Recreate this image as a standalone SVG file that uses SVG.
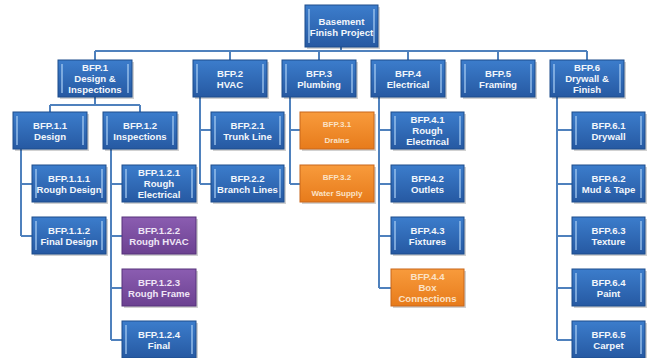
<svg xmlns="http://www.w3.org/2000/svg" width="647" height="358" viewBox="0 0 647 358">
<defs>
<linearGradient id="gb" x1="0" y1="0" x2="0" y2="1"><stop offset="0" stop-color="#3c7dcc"/><stop offset="1" stop-color="#2659a2"/></linearGradient>
<linearGradient id="go" x1="0" y1="0" x2="0" y2="1"><stop offset="0" stop-color="#f89b3c"/><stop offset="1" stop-color="#e77b1b"/></linearGradient>
<linearGradient id="gp" x1="0" y1="0" x2="0" y2="1"><stop offset="0" stop-color="#8b5db1"/><stop offset="1" stop-color="#6c4191"/></linearGradient>
</defs>
<style>
.b{fill:url(#gb);stroke:#1d4c8c;stroke-width:1}
.o{fill:url(#go);stroke:#c8661b;stroke-width:1}
.p{fill:url(#gp);stroke:#56327a;stroke-width:1}
.sh{fill:#000;opacity:0.18}
.hl{stroke:#a6cbf2;stroke-width:1.5;opacity:0.85}
.t{font-family:"Liberation Sans",Arial,sans-serif;font-weight:bold;font-size:9.6px;fill:#f2f6fb;text-anchor:middle}
.to{font-family:"Liberation Sans",Arial,sans-serif;font-weight:bold;font-size:8px;fill:#fbe2c6;text-anchor:middle}
.tp{fill:#efe6f6}
.c{fill:none;stroke:#4f81bd;stroke-width:2}
</style>
<g id="connectors">
<path class="c" d="M341 47V51M95 51H587M95 51V60M230 51V60M319 51V60M408 51V60M498 51V60M587 51V60"/>
<path class="c" d="M95 97V105M50 105H140M50 105V112M140 105V112"/>
<path class="c" d="M21 149V236M21 184H32M21 236H32"/>
<path class="c" d="M111 149V340M111 184H122M111 236H122M111 288H122M111 340H122"/>
<path class="c" d="M200 97V184M200 130H211M200 184H211"/>
<path class="c" d="M290 97V184M290 130H300M290 184H300"/>
<path class="c" d="M379 97V288M379 130H391M379 184H391M379 236H391M379 288H391"/>
<path class="c" d="M557 97V340M557 130H572M557 184H572M557 236H572M557 288H572M557 340H572"/>
</g>
<g id="root"><rect class="sh" x="307" y="7" width="73" height="42"/><rect class="b" x="305" y="5" width="73" height="42"/><path class="hl" d="M309 9V43M374 9V43"/><text class="t" x="341.5" y="24.5">Basement</text><text class="t" x="341.5" y="35.5">Finish Project</text></g>
<g id="bfp1"><rect class="sh" x="60" y="62" width="74" height="37"/><rect class="b" x="58" y="60" width="74" height="37"/><path class="hl" d="M62 64V93M128 64V93"/><text class="t" x="95" y="71">BFP.1</text><text class="t" x="95" y="82">Design &amp;</text><text class="t" x="95" y="93">Inspections</text></g>
<g id="bfp2"><rect class="sh" x="195" y="62" width="74" height="37"/><rect class="b" x="193" y="60" width="74" height="37"/><path class="hl" d="M197 64V93M263 64V93"/><text class="t" x="230" y="76.5">BFP.2</text><text class="t" x="230" y="87.5">HVAC</text></g>
<g id="bfp3"><rect class="sh" x="284" y="62" width="74" height="37"/><rect class="b" x="282" y="60" width="74" height="37"/><path class="hl" d="M286 64V93M352 64V93"/><text class="t" x="319" y="76.5">BFP.3</text><text class="t" x="319" y="87.5">Plumbing</text></g>
<g id="bfp4"><rect class="sh" x="373" y="62" width="74" height="37"/><rect class="b" x="371" y="60" width="74" height="37"/><path class="hl" d="M375 64V93M441 64V93"/><text class="t" x="408" y="76.5">BFP.4</text><text class="t" x="408" y="87.5">Electrical</text></g>
<g id="bfp5"><rect class="sh" x="463" y="62" width="74" height="37"/><rect class="b" x="461" y="60" width="74" height="37"/><path class="hl" d="M465 64V93M531 64V93"/><text class="t" x="498" y="76.5">BFP.5</text><text class="t" x="498" y="87.5">Framing</text></g>
<g id="bfp6"><rect class="sh" x="552" y="62" width="74" height="37"/><rect class="b" x="550" y="60" width="74" height="37"/><path class="hl" d="M554 64V93M620 64V93"/><text class="t" x="587" y="71">BFP.6</text><text class="t" x="587" y="82">Drywall &amp;</text><text class="t" x="587" y="93">Finish</text></g>

<g id="bfp11"><rect class="sh" x="15" y="114" width="74" height="37"/><rect class="b" x="13" y="112" width="74" height="37"/><path class="hl" d="M17 116V145M83 116V145"/><text class="t" x="50" y="128.5">BFP.1.1</text><text class="t" x="50" y="139.5">Design</text></g>
<g id="bfp12"><rect class="sh" x="105" y="114" width="74" height="37"/><rect class="b" x="103" y="112" width="74" height="37"/><path class="hl" d="M107 116V145M173 116V145"/><text class="t" x="140" y="128.5">BFP.1.2</text><text class="t" x="140" y="139.5">Inspections</text></g>
<g id="bfp111"><rect class="sh" x="34" y="167" width="74" height="37"/><rect class="b" x="32" y="165" width="74" height="37"/><path class="hl" d="M36 169V198M102 169V198"/><text class="t" x="69" y="181.5">BFP.1.1.1</text><text class="t" x="69" y="192.5">Rough Design</text></g>
<g id="bfp112"><rect class="sh" x="34" y="219" width="74" height="37"/><rect class="b" x="32" y="217" width="74" height="37"/><path class="hl" d="M36 221V250M102 221V250"/><text class="t" x="69" y="233.5">BFP.1.1.2</text><text class="t" x="69" y="244.5">Final Design</text></g>
<g id="bfp121"><rect class="sh" x="124" y="167" width="74" height="37"/><rect class="b" x="122" y="165" width="74" height="37"/><path class="hl" d="M126 169V198M192 169V198"/><text class="t" x="159" y="176">BFP.1.2.1</text><text class="t" x="159" y="187">Rough</text><text class="t" x="159" y="198">Electrical</text></g>
<g id="bfp122"><rect class="sh" x="124" y="219" width="74" height="37"/><rect class="p" x="122" y="217" width="74" height="37"/><text class="t tp" x="159" y="233.5">BFP.1.2.2</text><text class="t tp" x="159" y="244.5">Rough HVAC</text></g>
<g id="bfp123"><rect class="sh" x="124" y="271" width="74" height="37"/><rect class="p" x="122" y="269" width="74" height="37"/><text class="t tp" x="159" y="285.5">BFP.1.2.3</text><text class="t tp" x="159" y="296.5">Rough Frame</text></g>
<g id="bfp124"><rect class="sh" x="124" y="323" width="74" height="37"/><rect class="b" x="122" y="321" width="74" height="37"/><path class="hl" d="M126 325V354M192 325V354"/><text class="t" x="159" y="337.5">BFP.1.2.4</text><text class="t" x="159" y="348.5">Final</text></g>

<g id="bfp21"><rect class="sh" x="213" y="114" width="73" height="37"/><rect class="b" x="211" y="112" width="73" height="37"/><path class="hl" d="M215 116V145M280 116V145"/><text class="t" x="247.5" y="128.5">BFP.2.1</text><text class="t" x="247.5" y="139.5">Trunk Line</text></g>
<g id="bfp22"><rect class="sh" x="213" y="167" width="73" height="37"/><rect class="b" x="211" y="165" width="73" height="37"/><path class="hl" d="M215 169V198M280 169V198"/><text class="t" x="247.5" y="181.5">BFP.2.2</text><text class="t" x="247.5" y="192.5">Branch Lines</text></g>

<g id="bfp31"><rect class="sh" x="302" y="114" width="74" height="37"/><rect class="o" x="300" y="112" width="74" height="37"/><text class="to" x="337" y="127">BFP.3.1</text><text class="to" x="337" y="143">Drains</text></g>
<g id="bfp32"><rect class="sh" x="302" y="167" width="74" height="37"/><rect class="o" x="300" y="165" width="74" height="37"/><text class="to" x="337" y="180">BFP.3.2</text><text class="to" x="337" y="196">Water Supply</text></g>

<g id="bfp41"><rect class="sh" x="393" y="114" width="73" height="37"/><rect class="b" x="391" y="112" width="73" height="37"/><path class="hl" d="M395 116V145M460 116V145"/><text class="t" x="427.5" y="123">BFP.4.1</text><text class="t" x="427.5" y="134">Rough</text><text class="t" x="427.5" y="145">Electrical</text></g>
<g id="bfp42"><rect class="sh" x="393" y="167" width="73" height="37"/><rect class="b" x="391" y="165" width="73" height="37"/><path class="hl" d="M395 169V198M460 169V198"/><text class="t" x="427.5" y="181.5">BFP4.2</text><text class="t" x="427.5" y="192.5">Outlets</text></g>
<g id="bfp43"><rect class="sh" x="393" y="219" width="73" height="37"/><rect class="b" x="391" y="217" width="73" height="37"/><path class="hl" d="M395 221V250M460 221V250"/><text class="t" x="427.5" y="233.5">BFP.4.3</text><text class="t" x="427.5" y="244.5">Fixtures</text></g>
<g id="bfp44"><rect class="sh" x="393" y="271" width="73" height="37"/><rect class="o" x="391" y="269" width="73" height="37"/><text class="t" style="fill:#fbe2c6" x="427.5" y="280">BFP.4.4</text><text class="t" style="fill:#fbe2c6" x="427.5" y="291">Box</text><text class="t" style="fill:#fbe2c6" x="427.5" y="302">Connections</text></g>

<g id="bfp61"><rect class="sh" x="574" y="114" width="73" height="37"/><rect class="b" x="572" y="112" width="73" height="37"/><path class="hl" d="M576 116V145M641 116V145"/><text class="t" x="608.5" y="128.5">BFP.6.1</text><text class="t" x="608.5" y="139.5">Drywall</text></g>
<g id="bfp62"><rect class="sh" x="574" y="167" width="73" height="37"/><rect class="b" x="572" y="165" width="73" height="37"/><path class="hl" d="M576 169V198M641 169V198"/><text class="t" x="608.5" y="181.5">BFP.6.2</text><text class="t" x="608.5" y="192.5">Mud &amp; Tape</text></g>
<g id="bfp63"><rect class="sh" x="574" y="219" width="73" height="37"/><rect class="b" x="572" y="217" width="73" height="37"/><path class="hl" d="M576 221V250M641 221V250"/><text class="t" x="608.5" y="233.5">BFP.6.3</text><text class="t" x="608.5" y="244.5">Texture</text></g>
<g id="bfp64"><rect class="sh" x="574" y="271" width="73" height="37"/><rect class="b" x="572" y="269" width="73" height="37"/><path class="hl" d="M576 273V302M641 273V302"/><text class="t" x="608.5" y="285.5">BFP.6.4</text><text class="t" x="608.5" y="296.5">Paint</text></g>
<g id="bfp65"><rect class="sh" x="574" y="323" width="73" height="37"/><rect class="b" x="572" y="321" width="73" height="37"/><path class="hl" d="M576 325V354M641 325V354"/><text class="t" x="608.5" y="337.5">BFP.6.5</text><text class="t" x="608.5" y="348.5">Carpet</text></g>
</svg>
